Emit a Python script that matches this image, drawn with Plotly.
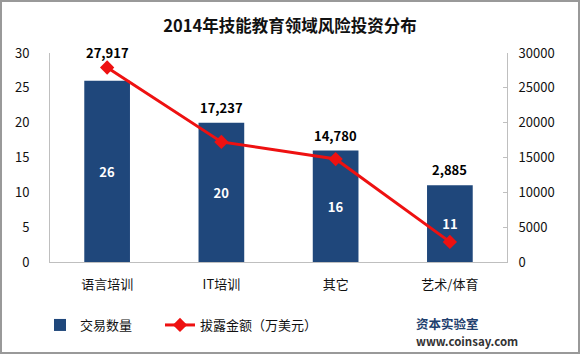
import plotly.graph_objects as go

categories = ["语言培训", "IT培训", "其它", "艺术/体育"]
deal_counts = [26, 20, 16, 11]
amounts = [27917, 17237, 14780, 2885]
amount_labels = ["27,917", "17,237", "14,780", "2,885"]

FONT = "Noto Sans CJK SC, Microsoft YaHei, sans-serif"

fig = go.Figure()
fig.add_trace(go.Bar(
    x=categories, y=deal_counts, name="交易数量",
    marker=dict(color="#1F477B", line=dict(width=0)),
    width=0.4,
    text=[str(v) for v in deal_counts], textposition="inside",
    insidetextanchor="middle",
    textfont=dict(color="white", size=13, family=FONT, weight="bold"),
    yaxis="y", legend="legend",
))
fig.add_trace(go.Scatter(
    x=categories, y=amounts, name="拔露金额（万美元）",
    mode="lines+markers",
    line=dict(color="#EE1111", width=3),
    marker=dict(symbol="diamond", size=11, color="#EE1111"),
    yaxis="y2", legend="legend2",
))

L, R, T, B = 50, 507, 53, 262
W, H = R - L, B - T

def px(x):
    return (x - L) / W

def py(y):
    return (B - y) / H

annotations = []
# amount labels placed above the higher of the bar top and the line point (left-axis units)
for cat, cnt, amt, lab in zip(categories, deal_counts, amounts, amount_labels):
    anchor = max(cnt, amt / 1000.0)
    annotations.append(dict(
        x=cat, y=anchor, xref="x", yref="y", text="<b>" + lab + "</b>",
        showarrow=False, yanchor="bottom", yshift=4,
        font=dict(size=13, color="black", family=FONT)))

annotations += [
    dict(text="<b>资本实验室</b>", xref="paper", yref="paper", x=px(414), y=py(323),
         xanchor="left", yanchor="middle", showarrow=False,
         font=dict(size=12.5, color="#1F3F6E", family=FONT)),
    dict(text="<b>www.coinsay.com</b>", xref="paper", yref="paper", x=px(414), y=py(341),
         xanchor="left", yanchor="middle", showarrow=False,
         font=dict(size=11.5, color="#333", family=FONT)),
]

legend_common = dict(orientation="h", yanchor="middle", xanchor="left",
                     font=dict(size=13, color="#111"), itemwidth=30,
                     bgcolor="rgba(0,0,0,0)")

fig.update_layout(
    width=580, height=354,
    margin=dict(l=L, r=580 - R, t=T, b=354 - B),
    paper_bgcolor="white", plot_bgcolor="white",
    font=dict(family=FONT, size=13, color="#222"),
    title=dict(text="<b>2014年技能教育领域风险投资分布</b>", x=0.5, xanchor="center",
               y=1 - 26 / 354, yanchor="middle", font=dict(size=16.5, color="#111")),
    showlegend=True,
    legend=dict(x=px(40), y=py(325), **legend_common),
    legend2=dict(x=px(160), y=py(325), **legend_common),
    xaxis=dict(showline=True, linecolor="#BFBFBF", linewidth=1, ticks="",
               tickfont=dict(size=13, color="#111"), showgrid=False,
               ticklabelstandoff=10),
    yaxis=dict(range=[0, 30], dtick=5, showline=True, linecolor="#BFBFBF", linewidth=1,
               showgrid=False, ticks="", zeroline=False,
               tickfont=dict(size=13, color="#111"), ticklabelstandoff=17),
    yaxis2=dict(range=[0, 30000], dtick=5000, tickformat="d", overlaying="y", side="right",
                showline=True, linecolor="#BFBFBF", linewidth=1, showgrid=False,
                ticks="inside", ticklen=4, tickcolor="#BFBFBF", zeroline=False,
                tickfont=dict(size=13, color="#111"), ticklabelstandoff=8),
    shapes=[dict(type="rect", xref="paper", yref="paper",
                 x0=px(1), x1=px(579), y0=py(353), y1=py(1),
                 line=dict(color="#999999", width=2), fillcolor="rgba(0,0,0,0)")],
    annotations=annotations,
)

fig.write_html("out.html")
